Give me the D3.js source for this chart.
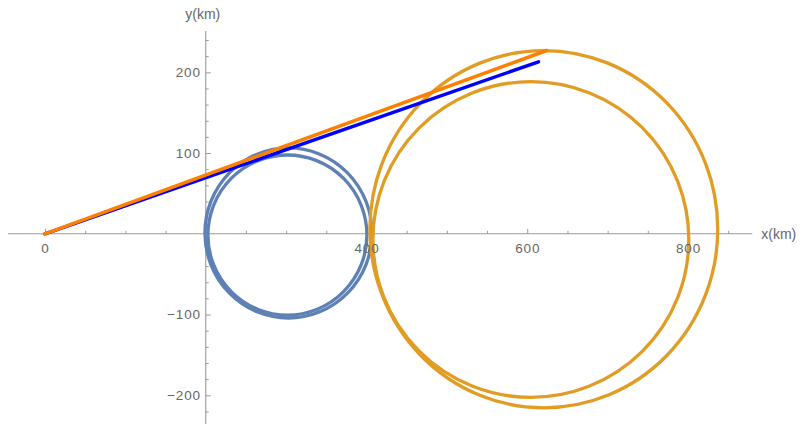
<!DOCTYPE html>
<html><head><meta charset="utf-8">
<script src="https://cdn.jsdelivr.net/npm/d3@7"></script>
<style>
html,body{margin:0;padding:0;background:#fff;}
svg{display:block;}
</style></head>
<body>
<script>
// ---- data ----
const xMajorTicks = [0, 400, 600, 800];
const xMajorLabels = ["0", "400", "600", "800"];
const xMinorTicks = [50, 100, 150, 200, 250, 300, 350, 450, 500, 550, 650, 700, 750, 850];
const yMajorTicks = [-200, -100, 100, 200];
const yMajorLabels = ["\u2212200", "\u2212100", "100", "200"];
const yMinorTicks = [-220, -180, -160, -140, -120, -80, -60, -40, -20, 20, 40, 60, 80, 120, 140, 160, 180, 220, 240];
const xAxisExtent = [-46, 880];
const yAxisExtent = [-236, 251];
const axesOrigin = [200, 0];

// trajectory loops (centre x, centre y, radius x, radius y) in km
const blueLoopCx = [302.9, 301.6];
const blueLoopCy = [1.0, -1.5];
const blueLoopRx = [103.9, 98.9];
const blueLoopRy = [105.3, 99.1];
const orangeLoopCx = [620.6, 604.5];
const orangeLoopCy = [5.7, -7.1];
const orangeLoopRx = [216.4, 196.5];
const orangeLoopRy = [221.2, 195.5];

// straight paths from origin
const blueLineX = [0, 614];
const blueLineY = [0, 213];
const orangeLineX = [0, 624];
const orangeLineY = [0, 227];

// ---- drawing ----
const W = 803, H = 424;
const svg = d3.select("body").append("svg").attr("width", W).attr("height", H);

const x = d3.scaleLinear().domain([0, 800]).range([45, 688]);
const y = d3.scaleLinear().domain([0, 200]).range([233.8, 72.3]);

const axisColor = "#9a9a9a";
const textColor = "#666";
const font = "'Liberation Sans', Arial, sans-serif";

const axesLayer = svg.append("g");
const marksLayer = svg.append("g");
const labelLayer = svg.append("g");

// x axis
const gx = axesLayer.append("g").attr("transform", `translate(0,${y(axesOrigin[1])})`);
gx.append("line").attr("x1", x(xAxisExtent[0])).attr("x2", x(xAxisExtent[1]))
  .attr("stroke", axisColor).attr("stroke-width", 1.1);
gx.append("g").call(d3.axisBottom(x).tickValues(xMajorTicks).tickFormat("")
  .tickSizeInner(-5).tickSizeOuter(0));
gx.append("g").call(d3.axisBottom(x).tickValues(xMinorTicks).tickFormat("")
  .tickSizeInner(-3).tickSizeOuter(0));

// y axis
const gy = axesLayer.append("g").attr("transform", `translate(${x(axesOrigin[0])},0)`);
gy.append("line").attr("y1", y(yAxisExtent[0])).attr("y2", y(yAxisExtent[1]))
  .attr("stroke", axisColor).attr("stroke-width", 1.1);
gy.append("g").call(d3.axisLeft(y).tickValues(yMajorTicks).tickFormat("")
  .tickSizeInner(-5).tickSizeOuter(0));
gy.append("g").call(d3.axisLeft(y).tickValues(yMinorTicks).tickFormat("")
  .tickSizeInner(-3).tickSizeOuter(0));

// tick labels (on top of the marks)
const lx = labelLayer.append("g").attr("transform", `translate(0,${y(axesOrigin[1])})`)
  .call(d3.axisBottom(x).tickValues(xMajorTicks).tickFormat((d, i) => xMajorLabels[i])
    .tickSize(0).tickPadding(9.5));
const ly = labelLayer.append("g").attr("transform", `translate(${x(axesOrigin[0])},0)`)
  .call(d3.axisLeft(y).tickValues(yMajorTicks).tickFormat((d, i) => yMajorLabels[i])
    .tickSize(0).tickPadding(5));
labelLayer.selectAll(".tick line").remove();

svg.selectAll(".domain").remove();
svg.selectAll(".tick line").attr("stroke", axisColor).attr("stroke-width", 1);
svg.selectAll(".tick text").attr("fill", textColor).style("font-family", font)
  .style("font-size", "13.5px").style("letter-spacing", "0.8px");

// axis labels
labelLayer.append("text").attr("x", x(xAxisExtent[1]) + 9).attr("y", y(0) + 5)
  .attr("fill", textColor).style("font-family", font).style("font-size", "14px").text("x(km)");
labelLayer.append("text").attr("x", x(axesOrigin[0]) - 3).attr("y", 19).attr("text-anchor", "middle")
  .attr("fill", textColor).style("font-family", font).style("font-size", "14px").text("y(km)");

// loops
function drawLoops(cxs, cys, rxs, rys, color) {
  marksLayer.append("g").selectAll("ellipse").data(cxs).join("ellipse")
    .attr("cx", (d) => x(d))
    .attr("cy", (d, i) => y(cys[i]))
    .attr("rx", (d, i) => x(d + rxs[i]) - x(d))
    .attr("ry", (d, i) => y(cys[i] - rys[i]) - y(cys[i]))
    .attr("fill", "none").attr("stroke", color).attr("stroke-width", 3.3);
}
drawLoops(blueLoopCx, blueLoopCy, blueLoopRx, blueLoopRy, "#5E81B5");
drawLoops(orangeLoopCx, orangeLoopCy, orangeLoopRx, orangeLoopRy, "#E19C24");

// lines
const line = d3.line().x(d => x(d[0])).y(d => y(d[1]));
marksLayer.append("path").datum(blueLineX.map((v, i) => [v, blueLineY[i]])).attr("d", line)
  .attr("fill", "none").attr("stroke", "#0000FF").attr("stroke-width", 3.5).attr("stroke-linecap", "round");
marksLayer.append("path").datum(orangeLineX.map((v, i) => [v, orangeLineY[i]])).attr("d", line)
  .attr("fill", "none").attr("stroke", "#FF7F00").attr("stroke-width", 3.5).attr("stroke-linecap", "round");
</script>
</body></html>
